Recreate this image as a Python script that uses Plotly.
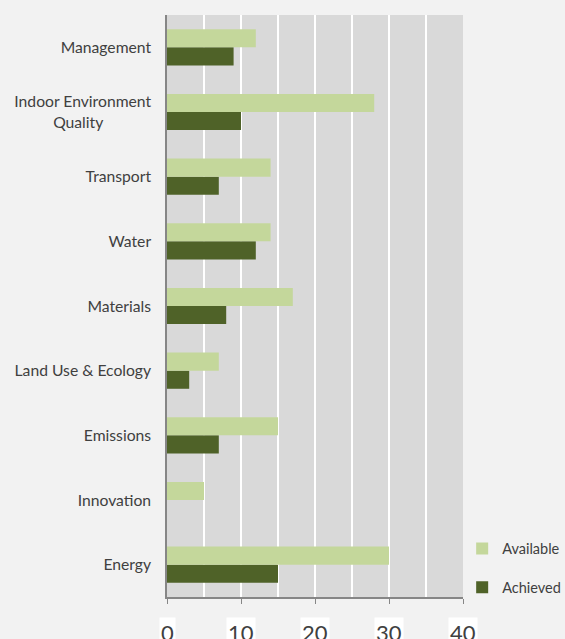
import plotly.graph_objects as go

NB = "\u00a0"
categories = ["Energy", "Innovation", "Emissions", "Land Use & Ecology", "Materials",
              "Water", "Transport", "Indoor Environment<br>Quality" + NB * 12, "Management"]
available = [30, 5, 15, 7, 17, 14, 14, 28, 12]
achieved = [15, 0, 7, 3, 8, 12, 7, 10, 9]
x_ticks = [0, 10, 20, 30, 40]

FONT = "Lato, Carlito, sans-serif"

fig = go.Figure()
fig.add_trace(go.Bar(y=categories, x=achieved, orientation="h", name="Achieved",
                     marker=dict(color="#4f6228", line=dict(width=0)),
                     legendrank=2, legendgroup="b"))
fig.add_trace(go.Bar(y=categories, x=available, orientation="h", name="Available",
                     marker=dict(color="#c4d79b", line=dict(width=0)),
                     legendrank=1, legendgroup="a"))

fig.update_layout(
    width=565, height=639,
    margin=dict(l=167, r=102, t=15, b=42, autoexpand=False),
    paper_bgcolor="#f2f2f2", plot_bgcolor="#d9d9d9",
    barmode="group", bargap=0.44, bargroupgap=0,
    font=dict(family=FONT, size=15, color="#404040"),
    legend=dict(xref="container", yref="container", x=0.818, xanchor="left",
                y=0.111, yanchor="middle",
                traceorder="grouped", tracegroupgap=17, itemwidth=30,
                font=dict(size=14.5, color="#404040"), bgcolor="rgba(0,0,0,0)"),
    xaxis=dict(range=[0, 40], dtick=10, tick0=0, showticklabels=False,
               ticks="outside", ticklen=5, tickcolor="#868686",
               showline=True, linecolor="#868686", linewidth=1.5,
               showgrid=True, gridcolor="white", gridwidth=1.5,
               minor=dict(dtick=5, showgrid=True, gridcolor="white", gridwidth=1.5),
               zeroline=False, fixedrange=True, automargin=False),
    yaxis=dict(showline=True, linecolor="#868686", linewidth=1.5, ticks="",
               ticklabelstandoff=11, showgrid=False, fixedrange=True, automargin=False,
               tickfont=dict(size=15.7, color="#404040")),
)

for t in x_ticks:
    fig.add_annotation(x=t, xref="x", y=0, yref="paper", yanchor="top", yshift=-20,
                       text=str(t), showarrow=False, bgcolor="white", borderpad=1,
                       font=dict(size=22, color="#404040", family=FONT))

fig.write_html("out.html", config={"displayModeBar": False},
               post_script="document.body.style.margin='0';document.body.style.overflow='hidden';")
